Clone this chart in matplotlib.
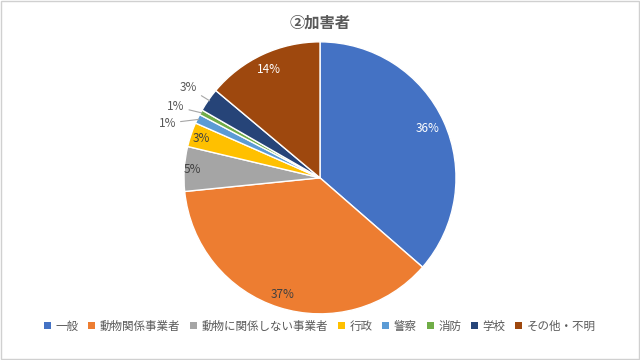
#!/usr/bin/env python
# pie chart: 加害者 breakdown

import numpy as np
from matplotlib import pyplot as plt
from matplotlib.patches import Patch, Rectangle

plt.rcParams['font.family'] = ['Noto Sans CJK JP', 'DejaVu Sans']

categories = ['一般', '動物関係事業者', '動物に関係しない事業者', '行政', '警察', '消防', '学校', 'その他・不明']
values = [36.4, 37.0, 5.3, 2.9, 1.1, 0.6, 2.8, 13.9]
labels = ['36%', '37%', '5%', '3%', '1%', '1%', '3%', '14%']
colors = ['#4472C4', '#ED7D31', '#A5A5A5', '#FFC000', '#5B9BD5', '#70AD47', '#264478', '#9E480E']

fig = plt.figure(figsize=(6.4, 3.6), dpi=100)
fig.patches.append(Rectangle((0.002, 0.003), 0.996, 0.994, transform=fig.transFigure,
                             fill=False, edgecolor='#d0d0d0', linewidth=1))

ax = fig.add_axes([0.2875, 0.128, 0.425, 0.756])
wedges, _ = ax.pie(values, colors=colors, startangle=90, counterclock=False,
                   wedgeprops={'edgecolor': 'white', 'linewidth': 1, 'clip_on': False})
ax.set_xlim(-1, 1)
ax.set_ylim(-1, 1)
ax.set_aspect('equal')

# label style per slice: (inside?, radius, angle shift in degrees, text colour)
label_style = [
    (True, 0.87, 0, 'white'),
    (True, 0.90, 0, '#404040'),
    (True, 0.94, 0, '#404040'),
    (True, 0.92, 0, '#404040'),
    (False, 1.19, 6, '#595959'),
    (False, 1.18, 2.5, '#595959'),
    (False, 1.17, 0.5, '#595959'),
    (True, 0.88, 0, 'white'),
]

for w, lab, (inside, r, shift, col) in zip(wedges, labels, label_style):
    mid = np.deg2rad((w.theta1 + w.theta2) / 2)
    a = mid + np.deg2rad(shift)
    tx, ty = r * np.cos(a), r * np.sin(a)
    if inside:
        ax.text(tx, ty, lab, ha='center', va='center', fontsize=8.5, color=col)
    else:
        ex, ey = 0.99 * np.cos(mid), 0.99 * np.sin(mid)
        ax.annotate(lab, xy=(ex, ey), xytext=(tx, ty), ha='center', va='center',
                    fontsize=8.5, color=col,
                    arrowprops=dict(arrowstyle='-', color='#a6a6a6', lw=0.8,
                                    shrinkA=1, shrinkB=0))

fig.text(0.5, 0.936, '②加害者', ha='center', va='center', fontsize=11,
         fontweight='bold', color='#595959')

handles = [Patch(facecolor=c, edgecolor='none') for c in colors]
fig.legend(handles, categories, loc='center', bbox_to_anchor=(0.5, 0.094), ncol=8,
           frameon=False, fontsize=8.3, handlelength=0.6, handleheight=0.6,
           handletextpad=0.4, columnspacing=0.85, labelcolor='#595959')

plt.savefig('out.png', dpi=100)
